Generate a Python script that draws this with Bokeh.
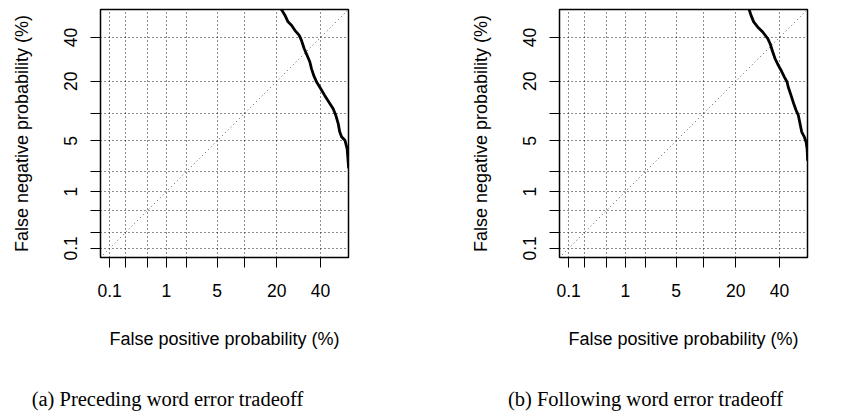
from statistics import NormalDist
from bokeh.plotting import figure
from bokeh.layouts import row, column
from bokeh.models import Range1d, FixedTicker, CustomJSTickFormatter
from bokeh.core.properties import value
from bokeh.embed import file_html
from bokeh.resources import INLINE

# ---- data (percent) ----
tick_pct = [0.1, 0.2, 0.5, 1, 2, 5, 10, 20, 40]
tick_labels = ["0.1", "", "", "1", "", "5", "", "20", "40"]

# (a) preceding word
fp_a = [20.6, 21.8, 23.2, 24.5, 26.0, 27.5, 29.4, 30.5, 31.8, 33.2, 34.6, 35.4, 36.5,
        38.0, 39.6, 42.2, 44.9, 46.7, 48.1, 49.4, 50.2, 51.2, 53.0, 54.2, 55.0]
fn_a = [60.0, 54.9, 51.9, 48.3, 46.5, 43.8, 41.2, 38.6, 34.4, 31.1, 28.0, 25.1, 22.3,
        19.7, 17.9, 15.1, 12.7, 11.3, 9.7, 7.9, 6.4, 5.6, 5.1, 4.0, 2.2]

# (b) following word
fp_b = [24.6, 25.4, 26.2, 27.4, 29.2, 31.6, 34.0, 35.2, 36.5, 37.7, 39.4, 40.8, 42.5,
        44.0, 44.6, 46.1, 47.5, 48.8, 50.0, 50.9, 51.8, 53.2, 54.2, 54.7, 55.0]
fn_b = [60.0, 54.9, 51.9, 48.3, 45.6, 42.9, 39.5, 36.9, 32.8, 29.6, 26.5, 24.4, 21.7,
        19.7, 17.9, 15.1, 12.7, 10.9, 9.7, 7.9, 6.4, 5.6, 4.8, 4.0, 2.8]

captions = ["(a) Preceding word error tradeoff", "(b) Following word error tradeoff"]
x_title = "False positive probability (%)"
y_title = "False negative probability (%)"
limits_pct = [0.1, 50]

nd = NormalDist()


def probit(pct):
    return nd.inv_cdf(pct / 100.0)


lo, hi = probit(limits_pct[0]), probit(limits_pct[1])
pad = 0.04 * (hi - lo)
rng = (lo - pad, hi + pad)
ticks = [probit(t) for t in tick_pct]

SANS = "Liberation Sans"
SERIF = "Liberation Serif"
PANEL_H = 380
CAP_H = 38


def make_panel(fp, fn, width, b_left, b_right):
    p = figure(width=width, height=PANEL_H, x_range=Range1d(*rng), y_range=Range1d(*rng),
               output_backend="svg", toolbar_location=None,
               min_border_left=b_left, min_border_right=b_right,
               min_border_top=9, min_border_bottom=PANEL_H - 9 - 248)
    p.background_fill_color = "white"
    p.border_fill_color = "white"
    p.outline_line_color = "black"
    p.outline_line_width = 1.5
    p.outline_line_alpha = 1.0

    fmt = CustomJSTickFormatter(args=dict(labels=tick_labels), code="return labels[index];")
    for ax in (p.xaxis[0], p.yaxis[0]):
        ax.ticker = FixedTicker(ticks=ticks)
        ax.formatter = fmt
        ax.axis_line_color = None
        ax.major_tick_out = 10
        ax.major_tick_in = 0
        ax.minor_tick_out = 0
        ax.minor_tick_in = 0
        ax.major_tick_line_color = "black"
        ax.major_tick_line_width = 1
        ax.major_label_text_font = SANS
        ax.major_label_text_font_size = "17.5px"
        ax.major_label_text_color = "black"
        ax.axis_label_text_font = SANS
        ax.axis_label_text_font_size = "18px"
        ax.axis_label_text_font_style = "normal"
        ax.axis_label_text_color = "black"
    p.xaxis.axis_label = x_title
    p.yaxis.axis_label = y_title
    p.yaxis.major_label_orientation = "vertical"
    p.xaxis.major_label_standoff = 16
    p.yaxis.major_label_standoff = 13
    p.xaxis.axis_label_standoff = 29
    p.yaxis.axis_label_standoff = 30

    for g in (p.xgrid[0], p.ygrid[0]):
        g.ticker = FixedTicker(ticks=ticks)
        g.grid_line_color = "black"
        g.grid_line_dash = "1 3"
        g.grid_line_width = 1
        g.grid_line_alpha = 0.9

    # diagonal y = x
    p.line(x=[rng[0], rng[1]], y=[rng[0], rng[1]], line_color="#444444",
           line_dash="1 3", line_width=0.9)
    # DET curve
    p.line(x=[probit(v) for v in fp], y=[probit(v) for v in fn],
           line_color="black", line_width=2.8, line_join="round")
    return p


p1 = make_panel(fp_a, fn_a, 420, 100, 72)
p2 = make_panel(fp_b, fn_b, 421, 139, 34)

# caption strip
cap = figure(width=841, height=CAP_H, x_range=Range1d(0, 841), y_range=Range1d(0, CAP_H),
             output_backend="svg", toolbar_location=None,
             min_border=0, min_border_left=0, min_border_right=0,
             min_border_top=0, min_border_bottom=0)
cap.axis.visible = False
cap.grid.visible = False
cap.outline_line_color = None
cap.background_fill_color = "white"
cap.border_fill_color = "white"
cap.text(x=[167, 645], y=[20, 20], text=captions, text_align="center",
         text_baseline="alphabetic", text_font=value(SERIF), text_font_size="20.5px",
         text_color="black")

layout = column(row(p1, p2), cap)
open("out.html", "w").write(file_html(layout, INLINE))
